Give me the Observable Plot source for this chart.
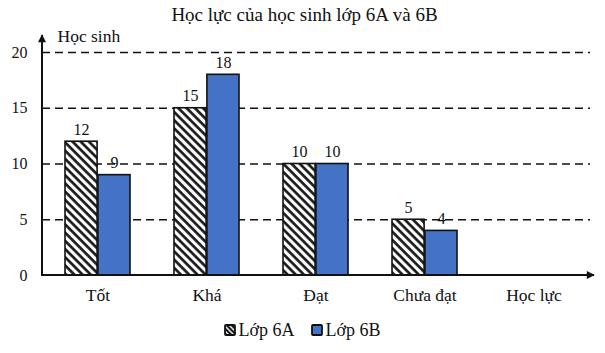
<!DOCTYPE html>
<html><head><meta charset="utf-8">
<script src="https://cdn.jsdelivr.net/npm/d3@7"></script>
<script src="https://cdn.jsdelivr.net/npm/@observablehq/plot@0.6"></script>
<style>
body{margin:0;background:#fff;font-family:"Liberation Serif","Times New Roman",serif;color:#111;}
#title{height:22px;line-height:30px;text-align:center;font-size:19px;padding-left:4px;position:relative;z-index:1;}
#chart{height:298px;}
#chart svg text{font-family:"Liberation Serif","Times New Roman",serif !important;}
#legend{display:flex;justify-content:center;align-items:center;gap:17px;font-size:18px;line-height:20px;margin-top:0px;padding-left:0px;}
#legend .item{display:flex;align-items:center;gap:2px;}
</style></head><body>
<svg width="0" height="0" style="position:absolute">
  <defs>
    <pattern id="hatch" patternUnits="userSpaceOnUse" width="5.8" height="5.8" patternTransform="rotate(-45)">
      <rect width="5.8" height="5.8" fill="#fff"/>
      <line x1="1.5" y1="0" x2="1.5" y2="5.8" stroke="#111" stroke-width="2.6"/>
    </pattern>
    <pattern id="hatchSmall" patternUnits="userSpaceOnUse" width="3.5" height="3.5" patternTransform="rotate(-45)">
      <rect width="3.5" height="3.5" fill="#fff"/>
      <line x1="1" y1="0" x2="1" y2="3.5" stroke="#111" stroke-width="2.2"/>
    </pattern>
    <marker id="arrowhead" viewBox="0 0 10 10" refX="9" refY="5" markerUnits="userSpaceOnUse" markerWidth="9" markerHeight="8" orient="auto">
      <path d="M0,0 L10,5 L0,10 z" fill="#111"/>
    </marker>
  </defs>
</svg>
<div id="title">Học lực của học sinh lớp 6A và 6B</div>
<div id="chart"></div>
<div id="legend"></div>
<script>
const categories = ["Tốt", "Khá", "Đạt", "Chưa đạt"];
const xAxisLabel = "Học lực";
const yAxisLabel = "Học sinh";
const seriesNames = ["Lớp 6A", "Lớp 6B"];
const lop6A = [12, 15, 10, 5];
const lop6B = [9, 18, 10, 4];
const yTicks = [0, 5, 10, 15, 20];
const gridValues = [5, 10, 15, 20];

const rows6A = categories.map((c, i) => ({cat: c, value: lop6A[i]}));
const rows6B = categories.map((c, i) => ({cat: c, value: lop6B[i]}));
const blue = "#4472C4";
const serif = "Liberation Serif, Times New Roman, serif";

const plot = Plot.plot({
  width: 605,
  height: 298,
  marginLeft: 42,
  marginRight: 15,
  marginTop: 30,
  marginBottom: 45,
  style: {fontFamily: serif, fontSize: "16px", color: "#111", background: "transparent", overflow: "visible"},
  x: {domain: [...categories, xAxisLabel], paddingInner: 0.4, paddingOuter: 0.2, label: null},
  y: {domain: [0, 20], label: null},
  marks: [
    Plot.ruleY(gridValues, {stroke: "#111", strokeWidth: 1.3, strokeDasharray: "8,5"}),
    Plot.barY(rows6A, {x: "cat", y: "value", fill: "url(#hatch)", stroke: "#111", strokeWidth: 1.6, insetRight: 32.9}),
    Plot.barY(rows6B, {x: "cat", y: "value", fill: blue, stroke: "#111", strokeWidth: 1.6, insetLeft: 32.9}),
    Plot.text(rows6A, {x: "cat", y: "value", text: "value", dx: -16.5, dy: -7, lineAnchor: "bottom", fontSize: 16, fontFamily: serif}),
    Plot.text(rows6B, {x: "cat", y: "value", text: "value", dx: 16.5, dy: -7, lineAnchor: "bottom", fontSize: 16, fontFamily: serif}),
    Plot.axisY({ticks: yTicks, tickSize: 0, tickPadding: 15, fontSize: 16, fontFamily: serif, label: null}),
    Plot.axisX({tickSize: 0, tickPadding: 13, fontSize: 17.5, fontFamily: serif, label: null}),
    Plot.text([yAxisLabel], {frameAnchor: "top-left", dx: 15, dy: -16, textAnchor: "start", lineAnchor: "middle", fontSize: 17.5, fontFamily: serif})
  ]
});

// axis lines with arrowheads, placed from the plot's own scales
const xs = plot.scale("x"), ys = plot.scale("y");
const left = xs.range[0], right = xs.range[1];
const y0 = ys.apply(0), yTop = ys.apply(20);
const svgSel = d3.select(plot);
svgSel.append("line").attr("x1", left).attr("y1", y0 + 1).attr("x2", left).attr("y2", yTop - 17)
  .attr("stroke", "#111").attr("stroke-width", 2).attr("marker-end", "url(#arrowhead)");
svgSel.append("line").attr("x1", left - 1).attr("y1", y0).attr("x2", right + 4).attr("y2", y0)
  .attr("stroke", "#111").attr("stroke-width", 2).attr("marker-end", "url(#arrowhead)");

document.getElementById("chart").appendChild(plot);

// legend
const fills = ["url(#hatchSmall)", blue];
const legend = document.getElementById("legend");
seriesNames.forEach((name, i) => {
  const item = document.createElement("div");
  item.className = "item";
  item.innerHTML = `<svg width="12" height="12"><rect x="1" y="1" width="10" height="10" fill="${fills[i]}" stroke="#111" stroke-width="1.8" rx="1"/></svg><span>${name}</span>`;
  legend.appendChild(item);
});
</script>
</body></html>
